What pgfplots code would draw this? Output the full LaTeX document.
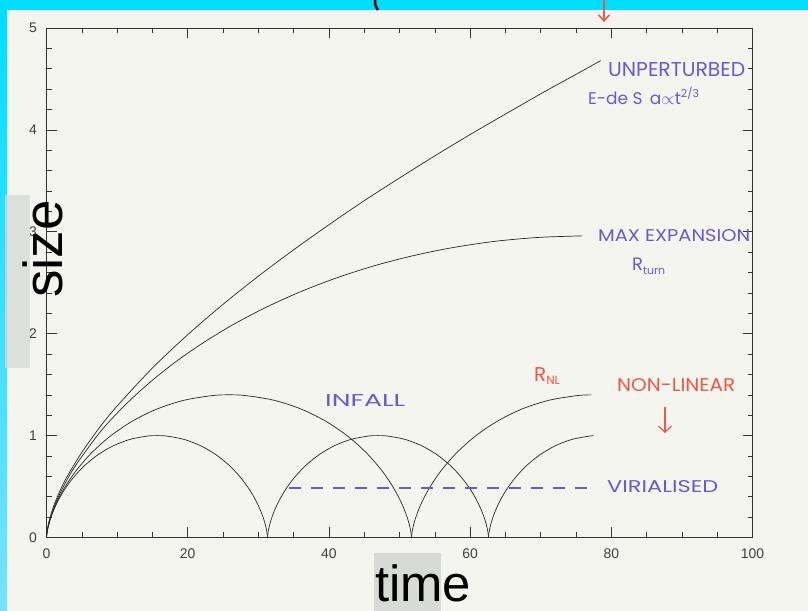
\documentclass[border=0pt]{standalone}
\usepackage{pgfplots}
\pgfplotsset{compat=1.18}
\usepackage{graphicx}
\usepackage{fontspec}
\setmainfont{Liberation Sans}
\newfontfamily\hand{Poppins}
\usetikzlibrary{arrows.meta}
\definecolor{bg}{RGB}{243,245,238}
\definecolor{cyanA}{RGB}{0,222,255}
\definecolor{cyanB}{RGB}{120,225,255}
\definecolor{hblue}{RGB}{105,90,210}
\definecolor{hred}{RGB}{238,88,68}
\definecolor{boxgrey}{RGB}{214,216,212}
\definecolor{ink}{RGB}{40,40,40}
\begin{document}
\begin{tikzpicture}[x=1bp,y=1bp]
\useasboundingbox (0,0) rectangle (808,611);
\fill[bg] (0,0) rectangle (808,611);
\fill[cyanA] (0,601) rectangle (808,611);
\shade[top color=cyanA, bottom color=cyanB] (0,0) rectangle (7,611);
\begin{axis}[
  at={(46.5bp,73.5bp)}, anchor=south west, scale only axis,
  width=706bp, height=509.5bp,
  xmin=0, xmax=100, ymin=0, ymax=5,
  xtick={0,20,...,100}, ytick={0,1,...,5},
  minor x tick num=3, minor y tick num=4,
  tick align=inside,
  major tick length=10bp, minor tick length=5bp,
  axis line style={draw=black!80, line width=0.8bp},
  tick style={black!80, line width=0.6bp},
  ticklabel style={font=\fontsize{14}{14}\selectfont, text=black!75},
  /pgf/number format/assume math mode=true,
  xticklabel style={yshift=-8bp},
  yticklabel style={xshift=-6bp},
  clip=false,
]
% unperturbed
\addplot[ink, line width=0.7bp, smooth] coordinates {
(0,0) (0.25,0.129) (1,0.306) (2,0.472) (3,0.608) (5,0.835) (7.5,1.078) (10,1.290) (15,1.663) (20,1.990) (25,2.288) (30,2.564) (35,2.823) (40,3.069) (45,3.305) (50,3.528) (55,3.745) (60,3.954) (65,4.155) (70,4.354) (75,4.545) (78.5,4.68)};
% max expansion
\addplot[ink, line width=0.7bp, smooth] coordinates {
(0,0) (0.0632,0.046) (0.503,0.181) (1.669,0.397) (3.867,0.680) (7.344,1.013) (9.616,1.192) (12.261,1.375) (15.29,1.560) (18.690,1.744) (22.47,1.923) (26.613,2.096) (31.10,2.259) (35.914,2.410) (41.02,2.546) (46.397,2.666) (52.02,2.767) (57.787,2.848) (63.72,2.908) (69.757,2.945) (75.9,2.96)};
% small cycloid arcs
\addplot[ink, line width=0.7bp, smooth] coordinates {
(0,0) (0.0129,0.0156) (0.1026,0.0612) (0.3408,0.1342) (0.7896,0.2299) (1.4996,0.3424) (2.5035,0.4647) (3.8162,0.5891) (5.4339,0.7081) (7.3330,0.8141) (9.4733,0.9006) (11.7989,0.9622) (14.2430,0.9950) (15.6514,1.0) (17.0599,0.9950) (19.5040,0.9622) (21.8296,0.9006) (23.9699,0.8141) (25.8690,0.7081) (27.4867,0.5891) (28.7994,0.4647) (29.8034,0.3424) (30.5134,0.2299) (30.9622,0.1342) (31.2004,0.0612) (31.2901,0.0156) (31.3029,0)};
\addplot[ink, line width=0.7bp, smooth] coordinates {
(31.3029,0) (31.3158,0.0156) (31.4055,0.0612) (31.6437,0.1342) (32.0925,0.2299) (32.8025,0.3424) (33.8064,0.4647) (35.1191,0.5891) (36.7368,0.7081) (38.6359,0.8141) (40.7762,0.9006) (43.1018,0.9622) (45.5459,0.9950) (46.9543,1.0) (48.3628,0.9950) (50.8069,0.9622) (53.1325,0.9006) (55.2728,0.8141) (57.1719,0.7081) (58.7896,0.5891) (60.1023,0.4647) (61.1063,0.3424) (61.8163,0.2299) (62.2651,0.1342) (62.5033,0.0612) (62.5930,0.0156) (62.6058,0)};
\addplot[ink, line width=0.7bp, smooth] coordinates {
(62.6058,0) (62.6187,0.0156) (62.7084,0.0612) (62.9466,0.1342) (63.3954,0.2299) (64.1054,0.3424) (65.1093,0.4647) (66.4220,0.5891) (68.0397,0.7081) (69.9388,0.8141) (72.0791,0.9006) (74.4047,0.9622) (76.8488,0.9950) (77.45,0.9984)};
% large cycloid arcs
\addplot[ink, line width=0.7bp, smooth] coordinates {
(0,0) (0.0213,0.0218) (0.1695,0.0857) (0.5628,0.1878) (1.3041,0.3218) (2.4766,0.4793) (4.1346,0.6505) (6.3026,0.8247) (8.9743,0.9913) (12.1108,1.1397) (15.6455,1.2608) (19.4864,1.3470) (23.5230,1.3930) (25.849,1.4) (28.1751,1.3930) (32.2118,1.3470) (36.0526,1.2608) (39.5874,1.1397) (42.7239,0.9913) (45.3955,0.8247) (47.5636,0.6505) (49.2216,0.4793) (50.3941,0.3218) (51.1354,0.1878) (51.5287,0.0857) (51.6768,0.0218) (51.698,0)};
\addplot[ink, line width=0.7bp, smooth] coordinates {
(51.698,0) (51.7193,0.0218) (51.8675,0.0857) (52.2608,0.1878) (53.0021,0.3218) (54.1746,0.4793) (55.8326,0.6505) (58.0006,0.8247) (60.6723,0.9913) (63.8088,1.1397) (67.3435,1.2608) (71.1844,1.3470) (75.2210,1.3930) (77.19,1.3998)};
% virialised level
\addplot[color=hblue, mark=none, line width=2bp, dashed, dash pattern=on 12bp off 10bp] coordinates {(34.3,0.49) (77.0,0.49)};
\end{axis}
% handwritten annotations
\node[anchor=base west, inner sep=0, text=hblue] at (608,534) {\resizebox{137bp}{14bp}{\hand UNPERTURBED}};
\node[anchor=base west, inner sep=0, text=hblue] at (588,506) {\hand\fontsize{17}{17}\selectfont E-de S\, a$\propto$t\raisebox{7bp}{\fontsize{11}{11}\selectfont 2/3}};
\node[anchor=base west, inner sep=0, text=hblue] at (598,369) {\resizebox{152bp}{12bp}{\hand MAX EXPANSION}};
\node[anchor=base west, inner sep=0, text=hblue] at (632,340) {\hand\fontsize{18}{18}\selectfont R\raisebox{-4bp}{\fontsize{11}{11}\selectfont turn}};
\node[anchor=base west, inner sep=0, text=hblue] at (325,204) {\resizebox{80bp}{12bp}{\hand INFALL}};
\node[anchor=base west, inner sep=0, text=hred] at (534,229) {\hand\fontsize{20}{20}\selectfont R\raisebox{-3bp}{\fontsize{12}{12}\selectfont NL}};
\node[anchor=base west, inner sep=0, text=hred] at (617,219) {\resizebox{118bp}{13bp}{\hand NON-LINEAR}};
\node[anchor=base west, inner sep=0, text=hblue] at (607,118) {\resizebox{111bp}{12bp}{\hand VIRIALISED}};
\draw[hred, line width=1.2bp, -{Straight Barb[length=6bp,width=13bp]}] (665,204) -- (665,178);
\draw[hred, line width=1.5bp, -{Straight Barb[length=6bp,width=11bp]}] (604,611) -- (604,589);
\draw[black, line width=2.5bp] (375,611) to[bend right=20] (378,601);
% axis titles with grey boxes
\fill[boxgrey, opacity=0.75] (5,243) rectangle (30,416);
\node[rotate=90, anchor=base, inner sep=0, font=\fontsize{55}{55}\selectfont] at (62,362) {size};
\fill[boxgrey, opacity=0.9] (374,0) rectangle (441,58);
\node[anchor=base, inner sep=0, font=\fontsize{51}{51}\selectfont] at (423,9) {time};
\end{tikzpicture}
\end{document}
